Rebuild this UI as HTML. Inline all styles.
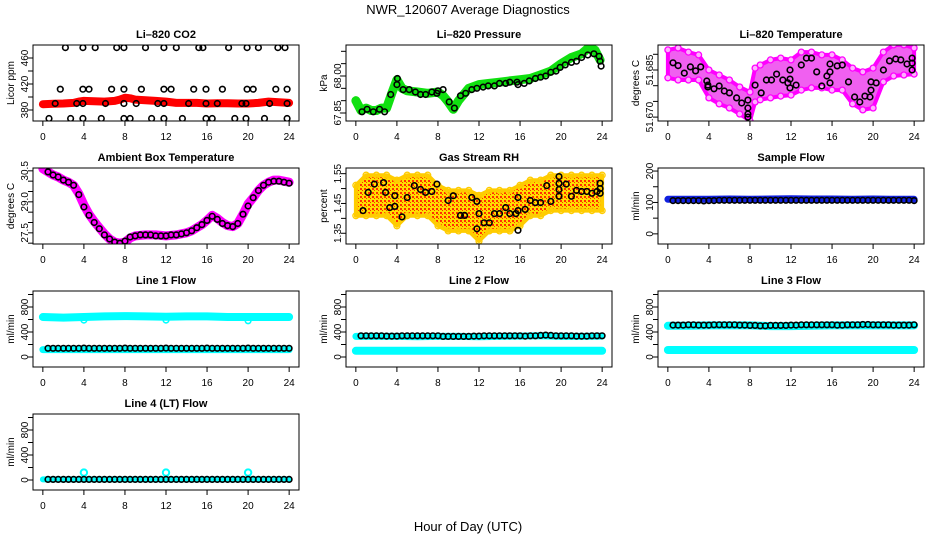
<!DOCTYPE html>
<html><head><meta charset="utf-8"><title>NWR_120607 Average Diagnostics</title>
<style>
html,body{margin:0;padding:0;background:#fff;}
svg{display:block;font-family:"Liberation Sans",Arial,sans-serif;}
</style></head>
<body>
<svg id="chart" xmlns="http://www.w3.org/2000/svg" width="936" height="540" viewBox="0 0 936 540">
<defs>
<pattern id="rhpat" width="4" height="4" patternUnits="userSpaceOnUse">
<rect width="4" height="4" fill="#ffdd00"/><rect width="2" height="2" fill="#ff3000"/><rect x="2" y="2" width="1" height="1" fill="#ff3000"/>
</pattern>
</defs>
<text x="468" y="14" text-anchor="middle" font-size="13">NWR_120607  Average Diagnostics</text>
<text x="468" y="531" text-anchor="middle" font-size="13">Hour of Day (UTC)</text>
</svg>
<script>
// ---------- data ----------
const avgHours=[0.5,1,1.5,2,2.5,3,3.5,4,4.5,5,5.5,6,6.5,7,7.5,8,8.5,9,9.5,10,10.5,11,11.5,12,12.5,13,13.5,14,14.5,15,15.5,16,16.5,17,17.5,18,18.5,19,19.5,20,20.5,21,21.5,22,22.5,23,23.5,24];

// CO2
const co2Hours=[0,1,2,3,3.5,4,5,6,7,7.5,8,8.5,9,10,11,12,13,14,15,16,17,18,19,20,21,22,23,24];
const co2Vals=[389,389.5,390,391,393,394,393.5,393,394,396,399,398,396,395,394,393,391,391,391,390,390.5,390.5,390,390,391,393,392,391];
const co2AvgHours=[1.2,3.3,3.9,6.1,7.9,9.1,11.2,11.8,14.2,15.9,17,19.4,19.8,22.1,23.8,
 2.2,3.9,5.1,7.2,7.9,10,11.8,13,15.2,15.6,18.1,19.9,21,22.9,23.6,
 1.7,3.9,4.5,6.7,7.9,9.6,11.8,12.5,14.7,15.9,17.5,19.9,20.5,22.7,23.8,
 0.6,2.7,3.9,5.7,7.9,8.5,10.6,11.8,13.6,15.9,16.5,18.7,19.8,21.6,23.8];
const co2AvgVals=[390,390,390,390,390,390,390,390,390,390,390,390,390,390,390,
 476,476,476,476,476,476,476,476,476,476,476,476,476,476,476,
 412,412,412,412,412,412,412,412,412,412,412,412,412,412,412,
 367,367,367,367,367,367,367,367,367,367,367,367,367,367,367];

// Pressure
const presHours=[0,0.5,1,1.5,2,2.5,3,3.5,4,4.5,5,6,7,8,8.5,9,9.5,10,11,12,13,14,15,16,17,18,19,20,21,22,22.7,23.3,23.8];
const presVals=[67.90,67.86,67.87,67.86,67.86,67.87,67.87,67.93,67.985,67.95,67.94,67.935,67.93,67.935,67.92,67.895,67.865,67.90,67.95,67.965,67.97,67.975,67.98,67.985,67.99,68.005,68.02,68.05,68.075,68.09,68.115,68.105,68.065];
const presAvgHours=[0.6,1.1,1.7,2.3,2.8,3.4,4,4.05,4.6,5.2,5.8,6.3,6.8,7.4,7.9,8.0,8.5,9.1,9.6,10.2,10.7,11.3,11.8,12.4,12.9,13.5,14,14.6,15,15.7,15.8,16.4,16.9,17.5,18,18.5,19,19.5,19.9,20.4,21,21.5,22,22.6,23.2,23.7,23.8,23.9];
const presAvgVals=[67.855,67.865,67.855,67.865,67.855,67.925,67.965,67.99,67.945,67.945,67.935,67.925,67.925,67.935,67.93,67.94,67.945,67.895,67.87,67.92,67.93,67.945,67.95,67.955,67.96,67.96,67.97,67.97,67.975,67.975,67.965,67.97,67.98,67.99,67.995,68.0,68.015,68.02,68.035,68.045,68.055,68.06,68.075,68.085,68.09,68.08,68.06,68.04];

// Li-820 temperature
const ltHours=[0,1,2,3,4,5,6,7,8,8.5,9,10,11,12,13,14,15,16,17,18,19,20,21,22,23,24];
const ltHi=[51.6914,51.6920,51.6907,51.6898,51.6850,51.6834,51.6818,51.6796,51.6780,51.6856,51.6866,51.6882,51.6888,51.6882,51.6907,51.6907,51.6898,51.6898,51.6882,51.6856,51.6844,51.6856,51.6907,51.6930,51.6930,51.6920];
const ltLo=[51.6825,51.6818,51.6818,51.6818,51.6761,51.6742,51.6729,51.6710,51.6688,51.6748,51.6755,51.6761,51.6767,51.6770,51.6786,51.6793,51.6793,51.6786,51.6786,51.6742,51.6723,51.6729,51.6812,51.6831,51.6834,51.6837];
const ltAvgHours=[0.5,1,1.6,2.2,2.7,3.2,3.8,3.9,3.9,4.5,5,5.5,6,6.7,7.2,7.8,7.8,7.8,7.8,8.5,9.1,9.6,10.1,10.6,11.2,11.7,11.9,11.9,11.9,12.5,13,13.5,14,14.5,15,15.5,15.8,15.8,15.8,16.5,17,17.6,18.2,18.7,19.2,19.7,19.8,19.8,20.3,21,21.6,22.2,22.7,23.3,23.8,23.8,23.8];
const ltAvgVals=[51.6873,51.6864,51.6840,51.6860,51.6847,51.6860,51.6815,51.6802,51.6796,51.6790,51.6799,51.6783,51.6777,51.6761,51.6745,51.6754,51.6729,51.6710,51.6700,51.6802,51.6777,51.6818,51.6818,51.6837,51.6818,51.6809,51.6793,51.6821,51.6850,51.6802,51.6866,51.6888,51.6888,51.6844,51.6799,51.6831,51.6844,51.6869,51.6809,51.6863,51.6866,51.6812,51.6764,51.6748,51.6767,51.6764,51.6786,51.6812,51.6809,51.6850,51.6879,51.6885,51.6882,51.6869,51.6850,51.6872,51.6888];

// Ambient box temperature
const ambHours=[0,0.5,1,1.5,2,2.5,3,3.5,4,4.5,5,5.5,6,6.5,7,7.5,8,8.5,9,10,11,12,13,14,14.5,15,15.5,16,16.5,17,17.5,18,18.5,19,19.5,20,20.5,21,21.5,22,22.5,23,23.5,24];
const ambVals=[30.6,30.45,30.3,30.2,30.05,29.95,29.8,29.4,28.85,28.4,28.05,27.75,27.45,27.2,27.05,27.0,27.05,27.25,27.35,27.4,27.4,27.35,27.4,27.5,27.6,27.75,27.9,28.1,28.35,28.2,28.0,27.85,27.8,27.95,28.4,28.9,29.2,29.55,29.8,29.95,30.05,30.05,30.0,29.95];
const ambAvg=[30.45,30.3,30.2,30.05,29.95,29.8,29.35,28.75,28.35,28.0,27.7,27.4,27.2,27.05,27.0,27.1,27.3,27.35,27.4,27.4,27.4,27.35,27.35,27.35,27.4,27.4,27.45,27.5,27.6,27.75,27.9,28.1,28.3,28.15,27.95,27.85,27.8,27.95,28.4,28.8,29.2,29.55,29.8,29.95,30.0,30.0,29.95,29.9];

// Gas stream RH
const rhHours=[0,1,2,3,4,5,6,7,8,9,10,11,12,13,14,15,16,17,18,19,20,21,22,23,24];
const rhHi=[1.511,1.545,1.545,1.545,1.528,1.545,1.545,1.545,1.511,1.494,1.494,1.494,1.477,1.494,1.494,1.494,1.511,1.528,1.528,1.545,1.545,1.545,1.545,1.545,1.545];
const rhLo=[1.409,1.409,1.409,1.409,1.375,1.409,1.409,1.409,1.375,1.358,1.358,1.358,1.324,1.358,1.358,1.358,1.375,1.409,1.409,1.426,1.426,1.426,1.426,1.426,1.426];
const rhAvgHours=[0.7,1.2,1.8,2.7,2.9,3.3,3.8,3.8,4.5,5,5.7,6.3,6.8,7.4,7.9,9,9.5,10.2,10.6,11.3,11.8,12,11.8,12.5,13,13.5,14,14.6,15,15.6,15.8,15.8,15.8,16.5,17,17.5,18,18.6,19,19.8,19.8,19.8,19.8,20.5,21,21.5,22,22.5,23,23.5,23.8,23.8,23.8];
const rhAvgVals=[1.426,1.487,1.515,1.52,1.487,1.436,1.476,1.44,1.405,1.47,1.51,1.497,1.487,1.49,1.515,1.46,1.476,1.41,1.41,1.47,1.457,1.416,1.365,1.385,1.385,1.416,1.416,1.436,1.416,1.416,1.426,1.47,1.36,1.43,1.46,1.453,1.453,1.51,1.457,1.54,1.517,1.497,1.474,1.515,1.474,1.494,1.49,1.49,1.484,1.49,1.518,1.50,1.484];

// Sample flow
const flowHours=[0,2,4,6,8,10,12,14,16,18,20,22,24];
const sampleVals=[110,110,110,111,110,111,112,111,111,110,111,110,110];
const sampleAvg=[106,106,106,106,106,106,105,106,106,107,107,107,107,107,107,107,107,107,107,107,107,107,107,107,107,107,107,107,107,107,107,107,107,107,107,107,107,107,107,107,107,107,107,107,107,107,107,106];

// Line flows
const l1Hi=[640,630,640,650,655,650,645,650,650,640,640,640,640];
const l1Lo=[118,118,118,118,118,118,118,118,118,118,118,118,118];
const l1Avg=[140,140,140,140,140,140,140,142,140,140,140,140,140,140,140,142,140,140,140,140,140,140,140,142,140,140,140,140,140,140,140,142,140,140,140,140,140,140,140,142,140,140,140,140,140,140,140,140];
const spikeHours=[4,12,20];
const l1Spike=[590,590,580];
const l2Hi=[330,330,330,325,330,330,325,330,335,340,330,330,335];
const l2Lo=[100,100,100,100,100,100,100,100,100,100,100,100,100];
const l2Avg=[340,340,340,340,340,335,335,335,340,340,340,340,340,340,340,340,330,330,330,330,330,330,335,335,340,340,340,340,340,340,340,340,335,340,340,345,350,345,340,340,340,340,335,335,335,340,340,340];
const l3Hi=[500,500,505,505,505,495,495,500,505,505,505,505,505];
const l3Lo=[112,112,112,112,112,112,112,112,112,112,112,112,112];
const l3Avg=[510,510,510,515,515,510,510,510,515,515,515,515,515,510,510,505,505,500,500,505,505,505,505,510,510,515,515,515,515,515,515,515,510,510,515,515,515,520,520,515,515,515,515,510,510,510,510,515];
const l4Hi=[10,10,10,10,10,10,10,10,10,10,10,10,10];
const l4Avg=[10,10,10,10,10,10,10,10,10,10,10,10,10,10,10,10,10,10,10,10,10,10,10,10,10,10,10,10,10,10,10,10,10,10,10,10,10,10,10,10,10,10,10,10,10,10,10,10];
const l4Spike=[118,118,118];

const xTicks=[0,4,8,12,16,20,24];

// ---------- layout ----------
const NS='http://www.w3.org/2000/svg';
const svg=document.getElementById('chart');
const COLS=[33,346,658], ROWS=[45,168,291,414], W=266, H=76;

function mk(tag,attrs,parent){const e=document.createElementNS(NS,tag);for(const k in attrs)e.setAttribute(k,attrs[k]);(parent||svg).appendChild(e);return e;}

function makePanel(p,idx){
  const bx=COLS[p.col], by=ROWS[p.row];
  const g=mk('g',{});
  
  
  const sx=h=>bx+(h+0.96)/25.92*W;
  const sy=v=>by+H-(v-p.ylim[0])/(p.ylim[1]-p.ylim[0])*H;
  const cid='clip'+idx;
  const cp=mk('clipPath',{id:cid},g);
  mk('rect',{x:bx,y:by,width:W,height:H},cp);
  const plot=mk('g',{'clip-path':'url(#'+cid+')'},g);
  
  
  const t=mk('text',{x:bx+W/2,y:by-7,'text-anchor':'middle','font-size':11,'font-weight':'bold'},g);
  t.textContent=p.title;
  
  
  const yl=mk('text',{x:bx-19,y:by+H/2,'text-anchor':'middle','font-size':10,transform:'rotate(-90 '+(bx-19)+' '+(by+H/2)+')'},g);
  yl.textContent=p.ylab;
  
  
  xTicks.forEach(h=>{
    const x=sx(h);
    const tk=mk('line',{x1:x,y1:by+H,x2:x,y2:by+H+5,stroke:'#000','stroke-width':1},g);
    
    
    const tl=mk('text',{x:x,y:by+H+19,'text-anchor':'middle','font-size':10},g);
    tl.textContent=String(h);
    
    
  });
  p.ticks.forEach(v=>{
    const y=sy(v);
    const tk=mk('line',{x1:bx-5,y1:y,x2:bx,y2:y,stroke:'#000','stroke-width':1},g);
    
    
  });
  p.labels.forEach(s=>{
    const y=sy(parseFloat(s)), x=bx-5;
    const tl=mk('text',{x:x,y:y,'text-anchor':'middle','font-size':10,transform:'rotate(-90 '+x+' '+y+')'},g);
    tl.textContent=s;
    
    
  });
  p.draw(plot,sx,sy);
  const box=mk('rect',{x:bx,y:by,width:W,height:H,fill:'none',stroke:'#000','stroke-width':1},g);
  
  
}

function band(parent,sx,sy,hs,vs,color,w,name){
  const pts=hs.map((h,i)=>sx(h).toFixed(1)+','+sy(vs[i]).toFixed(1)).join(' ');
  const e=mk('polyline',{points:pts,fill:'none',stroke:color,'stroke-width':w,'stroke-linecap':'round','stroke-linejoin':'round'},parent);
  
  
}
function area(parent,sx,sy,hs,lo,hi,fill,edge,name){
  const top=hs.map((h,i)=>sx(h).toFixed(1)+','+sy(hi[i]).toFixed(1));
  const bot=hs.map((h,i)=>sx(h).toFixed(1)+','+sy(lo[i]).toFixed(1)).reverse();
  const e=mk('polygon',{points:top.concat(bot).join(' '),fill:fill,stroke:edge,'stroke-width':4,'stroke-linejoin':'round'},parent);
  
  
}
function dots(parent,sx,sy,hs,vs,color,name,r,sw,fill){
  hs.forEach((h,i)=>{
    const c=mk('circle',{cx:sx(h).toFixed(1),cy:sy(vs[i]).toFixed(1),r:r||2.8,fill:fill||'none',stroke:color,'stroke-width':sw||1.6},parent);
    
    
  });
}

const flowTicks=[0,200,400,600,800,1000], flowLabels=['0','400','800'], flowLim=[-160,1056];
const panels=[
 {name:'li820-co2',col:0,row:0,title:'Li\u2013820 CO2',ylab:'Licor ppm',ylim:[363.1,480],ticks:[380,400,420,440,460],labels:['380','420','460'],
  draw:(g,sx,sy)=>{band(g,sx,sy,co2Hours,co2Vals,'#ff0000',8,'co2-series');dots(g,sx,sy,co2AvgHours,co2AvgVals,'#000','co2-average-point');}},
 {name:'li820-pressure',col:1,row:0,title:'Li\u2013820 Pressure',ylab:'kPa',ylim:[67.8176,68.1256],ticks:[67.85,67.90,67.95,68.00,68.05,68.10],labels:['67.85','68.00'],
  draw:(g,sx,sy)=>{band(g,sx,sy,presHours,presVals,'#10e010',9,'pressure-series');dots(g,sx,sy,presAvgHours,presAvgVals,'#000','pressure-average-point');}},
 {name:'li820-temperature',col:2,row:0,title:'Li\u2013820 Temperature',ylab:'degrees C',ylim:[51.66876,51.69296],ticks:[51.670,51.675,51.680,51.685,51.690],labels:['51.670','51.685'],
  draw:(g,sx,sy)=>{area(g,sx,sy,ltHours,ltLo,ltHi,'#f060f0','#ff00ff','li820-temperature-cloud');dots(g,sx,sy,ltHours,ltHi,'#ff00ff','li820-temperature-point',3,1.3,'#ffb0ff');dots(g,sx,sy,ltHours,ltLo,'#ff00ff','li820-temperature-point',3,1.3,'#ffb0ff');dots(g,sx,sy,ltAvgHours,ltAvgVals,'#000','li820-temperature-average-point');}},
 {name:'ambient-box-temperature',col:0,row:1,title:'Ambient Box Temperature',ylab:'degrees C',ylim:[26.96,30.637],ticks:[27.0,27.5,28.0,28.5,29.0,29.5,30.0,30.5],labels:['27.5','29.0','30.5'],
  draw:(g,sx,sy)=>{band(g,sx,sy,ambHours,ambVals,'#ff00ff',9,'ambient-temperature-series');dots(g,sx,sy,avgHours,ambAvg,'#000','ambient-temperature-average-point');}},
 {name:'gas-stream-rh',col:1,row:1,title:'Gas Stream RH',ylab:'percent',ylim:[1.314,1.569],ticks:[1.35,1.40,1.45,1.50,1.55],labels:['1.35','1.45','1.55'],
  draw:(g,sx,sy)=>{area(g,sx,sy,rhHours,rhLo,rhHi,'url(#rhpat)','#ffcc00','rh-cloud');dots(g,sx,sy,rhHours,rhHi,'#ffcc00','rh-point',3,1.3);dots(g,sx,sy,rhHours,rhLo,'#ffcc00','rh-point',3,1.3);dots(g,sx,sy,rhAvgHours,rhAvgVals,'#000','rh-average-point');}},
 {name:'sample-flow',col:2,row:1,title:'Sample Flow',ylab:'ml/min',ylim:[-32.3,209.7],ticks:[0,50,100,150,200],labels:['0','100','200'],
  draw:(g,sx,sy)=>{band(g,sx,sy,flowHours,sampleVals,'#1020e0',7,'sample-flow-series');dots(g,sx,sy,avgHours,sampleAvg,'#000','sample-flow-average-point');}},
 {name:'line-1-flow',col:0,row:2,title:'Line 1 Flow',ylab:'ml/min',ylim:flowLim,ticks:flowTicks,labels:flowLabels,
  draw:(g,sx,sy)=>{band(g,sx,sy,flowHours,l1Hi,'#00ffff',8,'line-1-upper-series');band(g,sx,sy,flowHours,l1Lo,'#00ffff',7,'line-1-lower-series');dots(g,sx,sy,spikeHours,l1Spike,'#00ffff','line-1-outlier');dots(g,sx,sy,avgHours,l1Avg,'#000','line-1-average-point');}},
 {name:'line-2-flow',col:1,row:2,title:'Line 2 Flow',ylab:'ml/min',ylim:flowLim,ticks:flowTicks,labels:flowLabels,
  draw:(g,sx,sy)=>{band(g,sx,sy,flowHours,l2Hi,'#00ffff',7,'line-2-upper-series');band(g,sx,sy,flowHours,l2Lo,'#00ffff',8,'line-2-lower-series');dots(g,sx,sy,avgHours,l2Avg,'#000','line-2-average-point');}},
 {name:'line-3-flow',col:2,row:2,title:'Line 3 Flow',ylab:'ml/min',ylim:flowLim,ticks:flowTicks,labels:flowLabels,
  draw:(g,sx,sy)=>{band(g,sx,sy,flowHours,l3Hi,'#00ffff',8,'line-3-upper-series');band(g,sx,sy,flowHours,l3Lo,'#00ffff',8,'line-3-lower-series');dots(g,sx,sy,avgHours,l3Avg,'#000','line-3-average-point');}},
 {name:'line-4-flow',col:0,row:3,title:'Line 4 (LT) Flow',ylab:'ml/min',ylim:flowLim,ticks:flowTicks,labels:flowLabels,
  draw:(g,sx,sy)=>{band(g,sx,sy,flowHours,l4Hi,'#00ffff',6,'line-4-series');dots(g,sx,sy,spikeHours,l4Spike,'#00ffff','line-4-outlier',3.2,2);dots(g,sx,sy,avgHours,l4Avg,'#000','line-4-average-point');}}
];
panels.forEach((p,i)=>makePanel(p,i));
</script>
</body></html>
